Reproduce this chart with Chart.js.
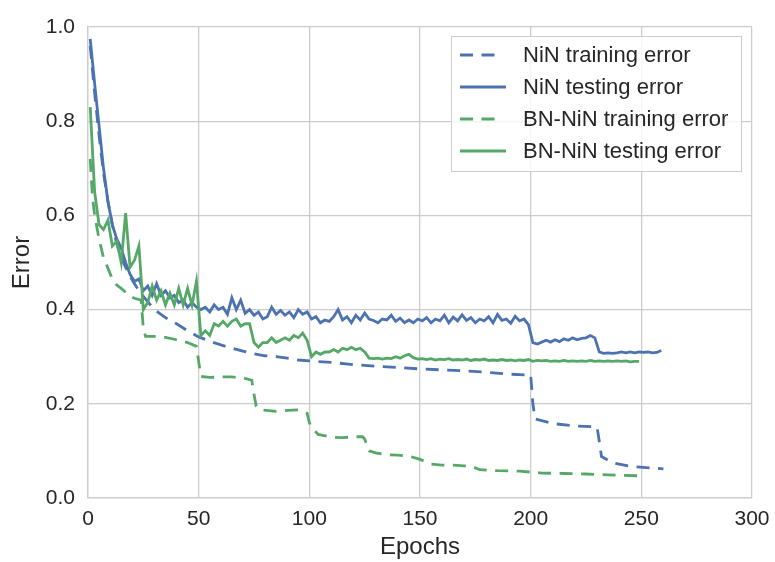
<!DOCTYPE html>
<html>
<head>
<meta charset="utf-8">
<script src="https://cdn.jsdelivr.net/npm/chart.js@4"></script>
<style>
  body { margin: 0; background: #fff; }
  #chart { width: 775px; height: 562px; }
</style>
</head>
<body>
<div id="chart"><canvas></canvas></div>
<script>
const canvas = document.querySelector("#chart canvas");

// testing error, one reading every 2 epochs starting at epoch 1
const testStep = 2;
const ninTestError = [
  0.975, 0.88, 0.79, 0.70, 0.63, 0.58, 0.55, 0.53, 0.50, 0.475,
  0.46, 0.465, 0.44, 0.45, 0.43, 0.455, 0.43, 0.44, 0.425, 0.43,
  0.415, 0.42, 0.405, 0.415, 0.405, 0.40, 0.405, 0.395, 0.41, 0.40,
  0.405, 0.39, 0.425, 0.40, 0.42, 0.392, 0.40, 0.388, 0.395, 0.38,
  0.385, 0.405, 0.39, 0.398, 0.388, 0.395, 0.383, 0.40, 0.39, 0.395,
  0.38, 0.385, 0.372, 0.378, 0.375, 0.385, 0.40, 0.378, 0.385, 0.372,
  0.388, 0.378, 0.393, 0.38, 0.377, 0.372, 0.38, 0.378, 0.388, 0.375,
  0.382, 0.372, 0.378, 0.372, 0.38, 0.376, 0.383, 0.372, 0.38, 0.376,
  0.388, 0.372, 0.384, 0.376, 0.389, 0.377, 0.383, 0.372, 0.38, 0.376,
  0.385, 0.372, 0.39, 0.377, 0.38, 0.371, 0.386, 0.376, 0.38, 0.368,
  0.33, 0.327, 0.331, 0.335, 0.331, 0.336, 0.332, 0.338, 0.335, 0.34,
  0.336, 0.339, 0.34, 0.345, 0.34, 0.31, 0.307, 0.308, 0.307, 0.308,
  0.31, 0.308, 0.31, 0.308, 0.31, 0.309, 0.31, 0.308, 0.309, 0.313,
];
const bnTestError = [
  0.83, 0.65, 0.58, 0.57, 0.59, 0.535, 0.545, 0.50, 0.605, 0.49,
  0.505, 0.535, 0.40, 0.415, 0.45, 0.42, 0.44, 0.41, 0.435, 0.41,
  0.445, 0.41, 0.445, 0.41, 0.46, 0.345, 0.355, 0.345, 0.37, 0.365,
  0.375, 0.365, 0.375, 0.38, 0.365, 0.37, 0.37, 0.33, 0.32, 0.33,
  0.33, 0.34, 0.33, 0.335, 0.34, 0.335, 0.345, 0.34, 0.35, 0.335,
  0.30, 0.31, 0.305, 0.31, 0.31, 0.315, 0.31, 0.318, 0.315, 0.32,
  0.315, 0.318, 0.31, 0.297, 0.296, 0.297, 0.295, 0.297, 0.296, 0.30,
  0.297, 0.302, 0.305, 0.298, 0.295, 0.296, 0.294, 0.296, 0.293, 0.295,
  0.294, 0.296, 0.293, 0.294, 0.293, 0.295, 0.292, 0.294, 0.293, 0.295,
  0.292, 0.293, 0.292, 0.294, 0.292, 0.293, 0.291, 0.293, 0.292, 0.294,
  0.29, 0.292, 0.291, 0.292, 0.29, 0.291, 0.29, 0.292, 0.29, 0.291,
  0.29, 0.291, 0.29, 0.292, 0.29, 0.291, 0.29, 0.291, 0.29, 0.291,
  0.29, 0.291, 0.289, 0.29, 0.29,
];

// training error is smooth with step drops, so keep its own epochs
const ninTrainEpochs = [1, 3, 5, 7, 9, 11, 13, 15, 17, 19, 21, 23, 25, 30, 35, 40, 45, 50, 55, 60, 65, 70, 75, 80, 85, 90, 95, 100,
  110, 120, 130, 140, 150, 160, 170, 180, 190, 199, 200, 201, 202, 210, 220, 230, 231, 232, 237, 245, 260];
const ninTrainError = [0.96, 0.86, 0.77, 0.69, 0.63, 0.58, 0.54, 0.51, 0.49, 0.47, 0.455, 0.44, 0.428, 0.40, 0.383, 0.37, 0.355, 0.342,
  0.333, 0.325, 0.318, 0.312, 0.306, 0.302, 0.30, 0.297, 0.293, 0.291,
  0.288, 0.283, 0.28, 0.277, 0.274, 0.272, 0.27, 0.267, 0.263, 0.261, 0.262, 0.20, 0.168, 0.158, 0.153, 0.151, 0.12, 0.088, 0.075, 0.067, 0.062];

const bnTrainEpochs = [1, 2, 3, 5, 7, 9, 11, 13, 15, 17, 19, 21, 24, 25, 26, 30, 35, 40, 45, 49, 50, 51, 55, 60, 65, 70, 74, 75, 76, 78,
  85, 90, 95, 99, 100, 101, 104, 110, 115, 120, 124, 125, 127, 130, 135, 140, 145, 150, 155, 160, 165, 170, 174, 177,
  185, 195, 205, 215, 225, 235, 250];
const bnTrainError = [0.72, 0.64, 0.60, 0.55, 0.51, 0.488, 0.465, 0.452, 0.445, 0.437, 0.428, 0.424, 0.42, 0.36, 0.343, 0.343, 0.341,
  0.336, 0.33, 0.322, 0.29, 0.258, 0.256, 0.257, 0.257, 0.255, 0.25, 0.22, 0.195, 0.187,
  0.184, 0.186, 0.187, 0.18, 0.16, 0.15, 0.135, 0.129, 0.128, 0.13, 0.13, 0.125, 0.1, 0.096, 0.092, 0.091, 0.089, 0.082, 0.072, 0.07,
  0.07, 0.068, 0.066, 0.06, 0.058, 0.057, 0.053, 0.052, 0.051, 0.049, 0.047];

const blue = "#4C72B0";
const green = "#55A868";
const gridColor = "#cccccc";
const textColor = "#262626";
const fontFamily = "'Liberation Sans', Arial, sans-serif";

const everyStep = (vals) => vals.map((v, i) => ({ x: 1 + i * testStep, y: v }));
const pairs = (xs, ys) => xs.map((x, i) => ({ x: x, y: ys[i] }));

// legend drawn inside the plot, top right, like the matplotlib one
const boxLegend = {
  id: "boxLegend",
  afterDraw(chart) {
    const ctx = chart.ctx;
    ctx.save();
    ctx.fillStyle = "rgba(255,255,255,0.8)";
    ctx.strokeStyle = gridColor;
    ctx.lineWidth = 1;
    ctx.fillRect(451.5, 36.5, 290, 135);
    ctx.strokeRect(451.5, 36.5, 290, 135);
    const rows = [55, 87, 119, 151];
    chart.data.datasets.forEach((ds, i) => {
      const y = rows[i];
      ctx.strokeStyle = ds.borderColor;
      ctx.lineWidth = ds.borderWidth;
      ctx.setLineDash(ds.borderDash || []);
      ctx.beginPath();
      ctx.moveTo(460, y);
      ctx.lineTo(ds.borderDash ? 497 : 506, y);
      ctx.stroke();
      ctx.setLineDash([]);
      ctx.fillStyle = textColor;
      ctx.font = "22px " + fontFamily;
      ctx.textBaseline = "middle";
      ctx.textAlign = "left";
      ctx.fillText(ds.label, 523, y + 1);
    });
    ctx.restore();
  },
};

new Chart(canvas, {
  type: "line",
  data: {
    datasets: [
      { label: "NiN training error", data: pairs(ninTrainEpochs, ninTrainError), borderColor: blue, borderWidth: 2.8, borderDash: [13, 8.5], order: 4 },
      { label: "NiN testing error", data: everyStep(ninTestError), borderColor: blue, borderWidth: 2.8, order: 3 },
      { label: "BN-NiN training error", data: pairs(bnTrainEpochs, bnTrainError), borderColor: green, borderWidth: 2.8, borderDash: [13, 8.5], order: 2 },
      { label: "BN-NiN testing error", data: everyStep(bnTestError), borderColor: green, borderWidth: 2.8, order: 1 },
    ],
  },
  options: {
    responsive: true,
    maintainAspectRatio: false,
    animation: false,
    elements: { point: { radius: 0 }, line: { tension: 0, fill: false } },
    layout: { padding: { left: 0, top: 27, right: 23, bottom: 0 } },
    plugins: { legend: { display: false }, tooltip: { enabled: false } },
    scales: {
      x: {
        type: "linear",
        min: 0,
        max: 300,
        afterFit: (s) => { s.height = 64; s.paddingLeft = 0; s.paddingRight = 0; },
        grid: { color: gridColor, lineWidth: 1.3, drawTicks: false },
        border: { color: gridColor, width: 1.3 },
        ticks: { stepSize: 50, padding: 9, color: textColor, font: { family: fontFamily, size: 21 } },
        title: { display: true, text: "Epochs", color: textColor, padding: { top: 0, bottom: 0 }, font: { family: fontFamily, size: 24 } },
      },
      y: {
        min: 0,
        max: 1,
        afterFit: (s) => { s.width = 88; s.paddingTop = 0; s.paddingBottom = 0; },
        grid: { color: gridColor, lineWidth: 1.3, drawTicks: false },
        border: { color: gridColor, width: 1.3 },
        ticks: { stepSize: 0.2, padding: 13, color: textColor, font: { family: fontFamily, size: 21 }, callback: (v) => v.toFixed(1) },
        title: { display: true, text: "Error", color: textColor, padding: { top: 8, bottom: 0 }, font: { family: fontFamily, size: 24 } },
      },
    },
  },
  plugins: [boxLegend],
});
</script>
</body>
</html>
